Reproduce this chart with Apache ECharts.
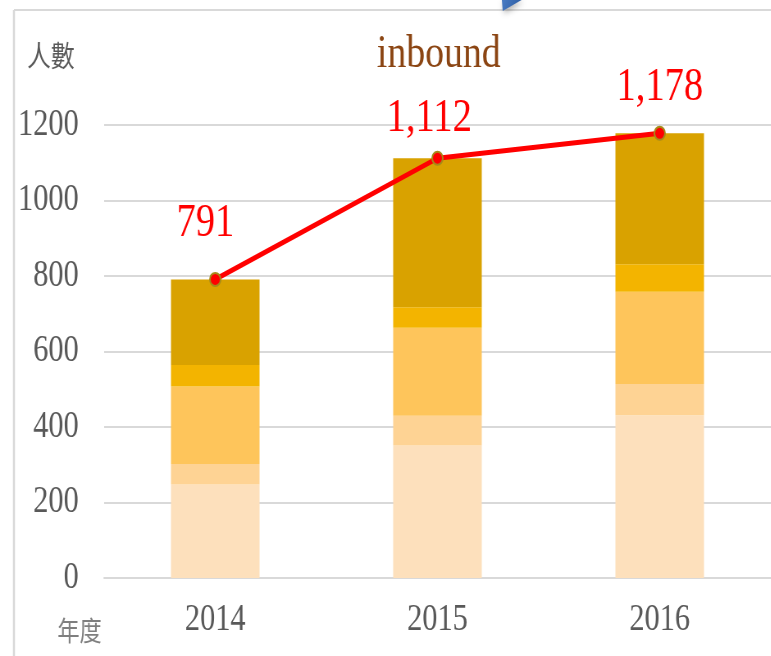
<!DOCTYPE html>
<html>
<head>
<meta charset="utf-8">
<script src="https://cdn.jsdelivr.net/npm/echarts@6/dist/echarts.min.js"></script>
<style>
  html, body { margin: 0; padding: 0; background: #ffffff; overflow: hidden; }
  #wrap { width: 771px; height: 656px; overflow: hidden; position: relative; }
  /* the chart is laid out wide and then narrowed, giving the condensed serif look */
  #chart { width: 940px; height: 656px; transform: scaleX(0.82); transform-origin: 0 0; }
</style>
</head>
<body>
<div id="wrap"><div id="chart"></div></div>
<script>
// Years on the category axis
const years = ['2014', '2015', '2016'];

// Stacked segments of each year's bar (bottom to top)
const tier1 = [248, 351, 431];
const tier2 = [54, 79, 83];
const tier3 = [205, 233, 244];
const tier4 = [57, 54, 73];
const tier5 = [227, 395, 347];

// Yearly inbound totals (line + labels)
const totals = [791, 1112, 1178];

// Value-axis settings
const yMin = 0;
const yMax = 1200;
const yStep = 200;

const tierColors = ['#FDE0BC', '#FED394', '#FEC55B', '#F3B400', '#D9A200'];
const tiers = [tier1, tier2, tier3, tier4, tier5];

// per-point label nudges for the total labels
const labelNudge = [[-12, -20], [-10, -4], [0, -10]];

const serif = '"Liberation Serif", "Times New Roman", serif';
const cjk = '"Noto Sans CJK TC", "Noto Sans CJK SC", sans-serif';

const chart = echarts.init(document.getElementById('chart'));

const barSeries = tiers.map((vals, i) => ({
  name: 'tier' + (i + 1),
  type: 'bar',
  stack: 'inbound',
  barWidth: 108,
  data: vals,
  itemStyle: { color: tierColors[i] },
  emphasis: { disabled: true },
  z: 2
}));

const lineSeries = {
  name: 'total',
  type: 'line',
  data: totals.map((v, i) => ({
    value: v,
    label: { offset: labelNudge[i] }
  })),
  symbol: 'circle',
  symbolSize: 13,
  lineStyle: { color: '#FF0000', width: 5 },
  itemStyle: { color: '#FF0000', borderColor: '#A68A1A', borderWidth: 2 },
  label: {
    show: true,
    position: 'top',
    distance: 5,
    fontFamily: serif,
    fontSize: 47,
    color: '#FF0000',
    formatter: p => Number(p.value).toLocaleString('en-US')
  },
  z: 5
};

chart.setOption({
  animation: false,
  backgroundColor: '#ffffff',
  title: {
    text: 'inbound',
    left: 530,
    top: 27,
    textAlign: 'center',
    textStyle: { fontFamily: serif, fontSize: 46, fontWeight: 'normal', color: '#8B4513' }
  },
  grid: { left: 127, right: -4, top: 125, bottom: 78, containLabel: false },
  xAxis: {
    type: 'category',
    data: years,
    axisLine: { show: true, lineStyle: { color: '#D9D9D9', width: 2 } },
    axisTick: { show: false },
    axisLabel: { fontFamily: serif, fontSize: 37, color: '#595959', margin: 24 }
  },
  yAxis: {
    type: 'value',
    min: yMin,
    max: yMax,
    interval: yStep,
    name: '人數',
    nameLocation: 'end',
    nameGap: 69,
    nameTextStyle: {
      fontFamily: cjk, fontSize: 29, color: '#595959',
      align: 'right', verticalAlign: 'middle', padding: [0, 36, 0, 0]
    },
    axisLine: { show: false },
    axisTick: { show: false },
    splitLine: { lineStyle: { color: '#D9D9D9', width: 2 } },
    axisLabel: {
      fontFamily: serif, fontSize: 37, color: '#595959', margin: 31,
      formatter: v => String(v)
    }
  },
  graphic: [
    // chart frame edges
    { type: 'line', shape: { x1: 17, y1: 10, x2: 17, y2: 656 }, style: { stroke: '#D9D9D9', lineWidth: 2.5 }, z: 1 },
    { type: 'line', shape: { x1: 17, y1: 10, x2: 940, y2: 10 }, style: { stroke: '#D9D9D9', lineWidth: 2 }, z: 1 },
    // category-axis title under the value labels
    {
      type: 'text',
      left: 70,
      top: 617,
      style: { text: '年度', fontFamily: cjk, fontSize: 27, fill: '#7F7F7F' },
      z: 3
    },
    // corner of a blue callout shape above the frame
    {
      type: 'polygon',
      shape: { points: [[612, 0], [636, 0], [613, 11]] },
      style: {
        fill: new echarts.graphic.LinearGradient(0, 0, 1, 1, [
          { offset: 0, color: '#4A7CC4' },
          { offset: 1, color: '#2A5AA0' }
        ]),
        shadowBlur: 6, shadowColor: 'rgba(0,0,0,0.35)', shadowOffsetX: 2, shadowOffsetY: 2
      },
      z: 10
    }
  ],
  series: [...barSeries, lineSeries]
});
</script>
</body>
</html>
